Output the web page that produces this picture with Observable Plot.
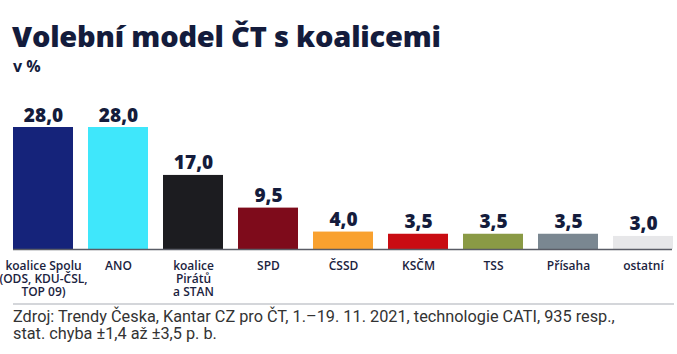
<!DOCTYPE html>
<html>
<head>
<meta charset="utf-8">
<script src="https://cdn.jsdelivr.net/npm/d3@7"></script>
<script src="https://cdn.jsdelivr.net/npm/@observablehq/plot@0.6"></script>
<style>
  html, body { margin: 0; padding: 0; background: #fff; }
  body { width: 677px; height: 354px; overflow: hidden; position: relative; font-family: "Open Sans", sans-serif; }
  #title { position: absolute; left: 12px; top: 16px; margin: 0; font-size: 29px; font-weight: 800; color: #141c3c; letter-spacing: -0.2px; white-space: nowrap; }
  #subtitle { position: absolute; left: 13px; top: 55px; font-size: 16px; font-weight: 700; color: #141c3c; }
  #chart { position: absolute; left: 0; top: 85px; }
  #sep { position: absolute; left: 13px; top: 303px; width: 661px; height: 0; border-top: 2px solid #d4d6da; }
  #caption { position: absolute; left: 13px; top: 308px; font-family: Roboto, sans-serif; font-size: 16.3px; line-height: 17px; color: #333; white-space: nowrap; }
</style>
</head>
<body>
<div id="title">Volební model ČT s koalicemi</div>
<div id="subtitle">v %</div>
<div id="chart"></div>
<div id="sep"></div>
<div id="caption">Zdroj: Trendy Česka, Kantar CZ pro ČT, 1.–19. 11. 2021, technologie CATI, 935 resp.,<br>stat. chyba ±1,4 až ±3,5 p. b.</div>
<script>
const parties = ["koalice Spolu\n(ODS, KDU-ČSL,\nTOP 09)", "ANO", "koalice\nPirátů\na STAN", "SPD", "ČSSD", "KSČM", "TSS", "Přísaha", "ostatní"];
const values = [28.0, 28.0, 17.0, 9.5, 4.0, 3.5, 3.5, 3.5, 3.0];
const colors = ["#15237a", "#3fe7fb", "#1c1c20", "#7e0b1b", "#f9a12f", "#c90c12", "#8a9a45", "#7a8791", "#e7e7e9"];

const data = parties.map((p, i) => ({party: p, value: values[i]}));
const fmt = v => v.toFixed(1).replace(".", ",");

const chart = Plot.plot({
  width: 677,
  height: 220,
  x: {domain: parties, range: [5.5, 680.5], paddingInner: 0.2, paddingOuter: 0.1, axis: null},
  y: {domain: [0, 28], range: [164, 42], axis: null},
  color: {domain: parties, range: colors},
  marks: [
    Plot.barY(data, {x: "party", y: "value", fill: "party"}),
    Plot.ruleY([0], {stroke: "#5a5c66", strokeWidth: 1.5, insetLeft: 13, insetRight: 4}),
    Plot.text(data, {x: "party", y: "value", text: d => fmt(d.value), lineAnchor: "bottom", dy: -6,
      fontSize: 19, fontWeight: 800, fill: "#141c3c", fontFamily: "Open Sans"}),
    Plot.text(data, {x: "party", y: 0, text: "party", lineAnchor: "top", dy: 11, lineHeight: 1.1,
      fontSize: 12, fontWeight: 600, fill: "#1b2340", fontFamily: "Open Sans"})
  ]
});
document.getElementById("chart").appendChild(chart);
</script>
</body>
</html>
